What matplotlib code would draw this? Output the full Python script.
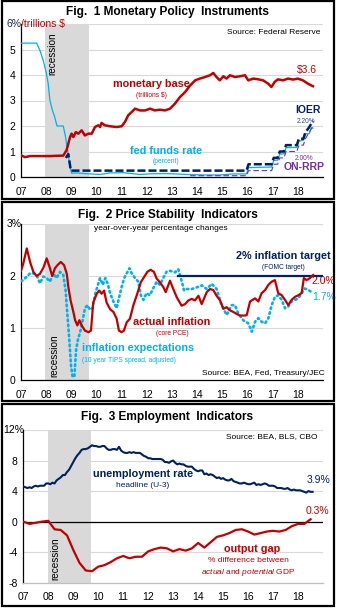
import matplotlib
matplotlib.use('Agg')
import matplotlib.pyplot as plt
from matplotlib.patches import Rectangle
import numpy as np

plt.rcParams['font.family'] = ['Liberation Sans', 'DejaVu Sans']
plt.rcParams['mathtext.fontset'] = 'custom'
plt.rcParams['mathtext.rm'] = 'Liberation Sans'
plt.rcParams['mathtext.it'] = 'Liberation Sans:italic'

RED = '#C00000'
NAVY = '#002060'
LBLUE = '#00B0F0'
PURPLE = '#7030A0'
GREY = '#D9D9D9'

W, H = 337, 608

# recession band (Dec 2007 - Jun 2009, as drawn)
rec_start, rec_end = 2007.97, 2009.72
year_ticks = list(range(2007, 2019))
year_labels = ['%02d' % (y % 100) for y in year_ticks]

# ---- Fig 1 data ----
mb_x = [2007.0, 2007.16, 2007.36, 2007.75, 2008.15, 2008.68, 2008.81, 2008.88, 2008.95, 2009.01,
        2009.08, 2009.18, 2009.28, 2009.41, 2009.54, 2009.68, 2009.81, 2009.94, 2010.07, 2010.14,
        2010.2, 2010.33, 2010.53, 2010.8, 2011.0, 2011.13, 2011.26, 2011.4, 2011.53, 2011.73,
        2011.93, 2012.13, 2012.32, 2012.52, 2012.72, 2012.92, 2013.12, 2013.32, 2013.52, 2013.72,
        2013.92, 2014.11, 2014.31, 2014.51, 2014.64, 2014.77, 2014.9, 2015.04, 2015.17, 2015.3,
        2015.5, 2015.7, 2015.9, 2016.03, 2016.23, 2016.43, 2016.62, 2016.82, 2016.95, 2017.08,
        2017.21, 2017.41, 2017.61, 2017.81, 2018.0, 2018.2, 2018.4, 2018.6]
mb_y = [0.85, 0.78, 0.82, 0.82, 0.82, 0.84, 1.05, 1.31, 1.57, 1.70,
        1.57, 1.76, 1.70, 1.83, 1.63, 1.70, 1.70, 1.96, 2.03, 1.96,
        2.12, 2.03, 1.99, 1.96, 1.99, 2.16, 2.42, 2.55, 2.68, 2.61,
        2.61, 2.68, 2.61, 2.64, 2.61, 2.68, 2.88, 3.14, 3.33, 3.59,
        3.79, 3.86, 3.92, 3.99, 4.08, 3.92, 3.79, 3.95, 3.86, 3.99,
        3.92, 3.95, 3.99, 3.79, 3.86, 3.83, 3.79, 3.66, 3.53, 3.73,
        3.83, 3.79, 3.86, 3.82, 3.86, 3.79, 3.66, 3.56]

ff_x = [2007.0, 2007.62, 2007.75, 2007.88, 2008.0, 2008.08, 2008.15, 2008.25, 2008.34, 2008.43,
        2008.68, 2008.77, 2008.85, 2008.95, 2009.01, 2009.21, 2009.6, 2010.14, 2010.53, 2011.06,
        2011.73, 2012.26, 2012.92, 2013.58, 2014.24, 2014.9, 2015.43, 2015.96, 2016.04, 2016.96,
        2017.04, 2017.2, 2017.28, 2017.45, 2017.53, 2017.96, 2018.04, 2018.22, 2018.3, 2018.45,
        2018.53, 2018.6]
ff_y = [5.25, 5.25, 4.97, 4.58, 4.10, 3.66, 3.00, 2.61, 2.35, 2.00,
        2.00, 1.57, 1.05, 0.39, 0.15, 0.16, 0.13, 0.10, 0.16, 0.17,
        0.10, 0.13, 0.13, 0.10, 0.08, 0.08, 0.12, 0.12, 0.37, 0.39,
        0.65, 0.66, 0.90, 0.91, 1.15, 1.16, 1.41, 1.44, 1.69, 1.70,
        1.91, 1.92]

ioer_x = [2008.78, 2008.88, 2008.98, 2015.96, 2016.04, 2016.96, 2017.04, 2017.2, 2017.28, 2017.45,
          2017.53, 2017.96, 2018.04, 2018.22, 2018.3, 2018.45, 2018.6]
ioer_y = [0.75, 0.90, 0.25, 0.25, 0.50, 0.50, 0.75, 0.75, 1.00, 1.00,
          1.25, 1.25, 1.50, 1.50, 1.75, 1.95, 2.20]

rrp_x = [2013.72, 2015.96, 2016.04, 2016.96, 2017.04, 2017.2, 2017.28, 2017.45, 2017.53, 2017.96,
         2018.04, 2018.22, 2018.3, 2018.45, 2018.6]
rrp_y = [0.05, 0.05, 0.25, 0.25, 0.50, 0.50, 0.75, 0.75, 1.00, 1.00,
         1.25, 1.25, 1.50, 1.75, 2.00]

# ---- Fig 2 data ----
pce_x = [2007.0, 2007.09, 2007.23, 2007.36, 2007.49, 2007.62, 2007.75, 2007.89, 2008.02, 2008.15,
         2008.24, 2008.35, 2008.45, 2008.58, 2008.71, 2008.82, 2008.88, 2008.97, 2009.08, 2009.15,
         2009.24, 2009.32, 2009.41, 2009.54, 2009.68, 2009.78, 2009.87, 2010.01, 2010.11, 2010.2,
         2010.3, 2010.4, 2010.54, 2010.67, 2010.8, 2010.89, 2011.0, 2011.09, 2011.2, 2011.33,
         2011.46, 2011.62, 2011.76, 2011.89, 2012.02, 2012.15, 2012.28, 2012.39, 2012.52, 2012.65,
         2012.75, 2012.85, 2012.92, 2013.05, 2013.19, 2013.38, 2013.52, 2013.65, 2013.78, 2013.91,
         2014.05, 2014.18, 2014.38, 2014.51, 2014.64, 2014.77, 2014.91, 2015.04, 2015.17, 2015.3,
         2015.43, 2015.57, 2015.7, 2015.9, 2015.97, 2016.1, 2016.3, 2016.43, 2016.56, 2016.7,
         2016.83, 2016.96, 2017.09, 2017.22, 2017.36, 2017.49, 2017.62, 2017.75, 2017.89, 2018.02,
         2018.15, 2018.24, 2018.35, 2018.48, 2018.61]
pce_y = [2.10, 2.24, 2.53, 2.27, 2.08, 2.00, 2.04, 2.16, 2.34, 2.15,
         2.00, 2.15, 2.21, 2.27, 2.21, 2.04, 1.79, 1.53, 1.31, 1.15,
         1.05, 1.15, 1.05, 0.95, 0.92, 0.95, 1.49, 1.66, 1.72, 1.66,
         1.72, 1.49, 1.36, 1.31, 1.18, 0.95, 0.92, 0.95, 1.11, 1.18,
         1.43, 1.66, 1.88, 1.98, 2.08, 2.12, 2.08, 1.95, 1.88, 1.79,
         1.69, 1.82, 1.91, 1.75, 1.59, 1.43, 1.46, 1.53, 1.56, 1.53,
         1.62, 1.46, 1.69, 1.75, 1.73, 1.62, 1.53, 1.37, 1.40, 1.34,
         1.31, 1.27, 1.24, 1.24, 1.25, 1.51, 1.57, 1.51, 1.67, 1.73,
         1.83, 1.89, 1.92, 1.67, 1.63, 1.54, 1.44, 1.54, 1.60, 1.63,
         1.67, 1.96, 1.92, 1.96, 2.02]

tips_x = [2007.0, 2007.09, 2007.23, 2007.36, 2007.49, 2007.62, 2007.75, 2007.89, 2008.02, 2008.15,
          2008.28, 2008.41, 2008.55, 2008.68, 2008.77, 2008.85, 2008.92, 2008.99, 2009.05, 2009.12,
          2009.19, 2009.26, 2009.37, 2009.45, 2009.54, 2009.64, 2009.74, 2009.84, 2009.94, 2010.03,
          2010.14, 2010.25, 2010.35, 2010.44, 2010.54, 2010.67, 2010.8, 2010.89, 2011.0, 2011.1,
          2011.2, 2011.31, 2011.4, 2011.53, 2011.66, 2011.76, 2011.86, 2011.99, 2012.12, 2012.25,
          2012.39, 2012.52, 2012.65, 2012.78, 2012.92, 2013.12, 2013.25, 2013.38, 2013.48, 2013.58,
          2013.78, 2013.98, 2014.18, 2014.38, 2014.58, 2014.77, 2014.97, 2015.17, 2015.37, 2015.5,
          2015.63, 2015.83, 2016.03, 2016.17, 2016.3, 2016.43, 2016.56, 2016.7, 2016.83, 2016.96,
          2017.09, 2017.22, 2017.36, 2017.49, 2017.62, 2017.75, 2017.89, 2018.02, 2018.15, 2018.28,
          2018.42, 2018.61]
tips_y = [1.90, 1.92, 1.99, 2.05, 2.05, 2.02, 1.86, 1.99, 1.96, 1.89,
          2.05, 1.96, 2.08, 2.02, 1.73, 1.22, 0.77, 0.26, 0.06, 0.06,
          0.58, 0.77, 0.96, 1.15, 1.38, 1.44, 1.35, 1.38, 1.63, 1.79,
          1.96, 1.83, 1.96, 1.86, 1.67, 1.51, 1.38, 1.57, 1.79, 1.96,
          2.05, 2.15, 2.05, 1.96, 1.89, 1.63, 1.54, 1.67, 1.63, 1.76,
          1.89, 1.83, 1.96, 2.08, 2.10, 2.07, 2.13, 1.91, 1.72, 1.75,
          1.75, 1.78, 1.82, 1.75, 1.85, 1.75, 1.44, 1.25, 1.44, 1.44,
          1.28, 1.15, 1.09, 0.93, 1.12, 1.19, 1.12, 1.09, 1.19, 1.44,
          1.60, 1.63, 1.54, 1.38, 1.41, 1.51, 1.54, 1.57, 1.67, 1.76,
          1.73, 1.67]

target_x = [2013.25, 2019.0]
target_y = [2.0, 2.0]

# ---- Fig 3 data ----
unemp = [4.6, 4.5, 4.4, 4.5, 4.4, 4.6, 4.7, 4.6, 4.7, 4.7, 4.7, 5.0,
         5.0, 4.9, 5.1, 5.0, 5.4, 5.6, 5.8, 6.1, 6.1, 6.5, 6.8, 7.3,
         7.8, 8.3, 8.7, 9.0, 9.4, 9.5, 9.5, 9.6, 9.8, 10.0, 9.9, 9.9,
         9.8, 9.8, 9.9, 9.9, 9.6, 9.4, 9.4, 9.5, 9.5, 9.4, 9.8, 9.3,
         9.1, 9.0, 9.0, 9.1, 9.0, 9.1, 9.0, 9.0, 9.0, 8.8, 8.6, 8.5,
         8.3, 8.3, 8.2, 8.2, 8.2, 8.2, 8.2, 8.1, 7.8, 7.8, 7.7, 7.9,
         8.0, 7.7, 7.5, 7.6, 7.5, 7.5, 7.3, 7.2, 7.2, 7.2, 6.9, 6.7,
         6.6, 6.7, 6.7, 6.2, 6.3, 6.1, 6.2, 6.1, 5.9, 5.7, 5.8, 5.6,
         5.7, 5.5, 5.4, 5.4, 5.6, 5.3, 5.2, 5.1, 5.0, 5.0, 5.1, 5.0,
         4.9, 4.9, 5.0, 5.1, 4.8, 4.9, 4.8, 4.9, 5.0, 4.9, 4.7, 4.7,
         4.7, 4.6, 4.4, 4.4, 4.4, 4.3, 4.3, 4.4, 4.2, 4.1, 4.2, 4.1,
         4.1, 4.1, 4.0, 3.9, 3.8, 4.0, 3.9, 3.9]
unemp_x = 2007 + np.arange(len(unemp)) / 12.0

gap = [0.0, -0.3, -0.15, 0.0, 0.1, -1.0, -1.1, -1.8, -3.7, -5.4, -6.4, -6.5,
       -5.9, -5.7, -5.3, -4.8, -4.5, -4.8, -4.6, -4.6, -3.9, -3.6, -3.4, -3.5,
       -3.9, -3.6, -3.8, -3.5, -2.8, -3.4, -2.7, -2.0, -1.8, -1.5, -1.1, -1.0,
       -1.3, -1.7, -1.5, -1.3, -1.2, -1.3, -1.1, -0.6, -0.3, -0.3, 0.3]
gap_x = 2007 + np.arange(len(gap)) / 4.0


def fx(px):
    return px / W


def fy(py):
    return 1 - py / H


fig = plt.figure(figsize=(W / 100, H / 100), dpi=100)

# panel borders
for top, bot in [(1, 199), (202, 400.5), (403.5, 606)]:
    fig.add_artist(Rectangle((fx(2), fy(bot)), fx(334) - fx(2), fy(top) - fy(bot),
                             transform=fig.transFigure, fill=False, ec='black', lw=1.6))

titles = [('Fig.  1 Monetary Policy  Instruments', 12),
          ('Fig.  2 Price Stability  Indicators', 215),
          ('Fig.  3 Employment  Indicators', 417)]
for t, py in titles:
    fig.text(0.497, fy(py), t, ha='center', va='center', fontsize=8.6, fontweight='bold')


def make_axes(left, right, top, bot, ylim, yticks, ylabels):
    ax = fig.add_axes([fx(left), fy(bot), fx(right) - fx(left), fy(top) - fy(bot)])
    ax.set_xlim(2007, 2019)
    ax.set_ylim(*ylim)
    ax.axvspan(rec_start, rec_end, color=GREY, lw=0, zorder=0)
    for v in yticks:
        ax.axhline(v, color=GREY, lw=0.8, zorder=0.5)
    ax.axhline(ylim[1], color=GREY, lw=0.8, zorder=0.5)
    ax.set_yticks(yticks)
    ax.set_yticklabels(ylabels)
    ax.set_xticks(year_ticks)
    ax.set_xticklabels(year_labels)
    ax.tick_params(axis='both', length=0, labelsize=7.5, colors='black')
    ax.tick_params(axis='x', pad=7)
    ax.tick_params(axis='y', pad=4)
    for s in ['top', 'right']:
        ax.spines[s].set_visible(False)
    ax.spines['left'].set_linewidth(0.9)
    ax.spines['bottom'].set_linewidth(0.9)
    ax.set_facecolor('none')
    return ax


# ---------- Fig 1 ----------
ax1 = make_axes(21, 323, 24, 177, (0, 6), [0, 1, 2, 3, 4, 5], ['0', '1', '2', '3', '4', '5'])
ax1.plot(ff_x, ff_y, color=LBLUE, lw=0.9, zorder=3)
ax1.plot(rrp_x, rrp_y, color=PURPLE, lw=0.8, dashes=(5, 2.5), zorder=3)
ax1.plot(ioer_x, ioer_y, color=NAVY, lw=1.8, dashes=(3.2, 1.2), zorder=4)
ax1.plot(mb_x, mb_y, color=RED, lw=1.8, zorder=5)
ax1.text(2007.02, 6, '6%', ha='right', va='center', fontsize=7.5, color='#1F2A44')
ax1.text(2007.0, 6, '/trillions $', ha='left', va='center', fontsize=7.5, color=RED)
ax1.text(2008.23, 5.68, 'recession', rotation=90, ha='center', va='top', fontsize=7.2)
ax1.text(2018.88, 5.65, 'Source: Federal Reserve', ha='right', va='center', fontsize=6)
ax1.text(2012.2, 3.65, 'monetary base', ha='center', va='center', fontsize=7.8,
         fontweight='bold', color=RED)
ax1.text(2012.2, 3.18, '(trillions $)', ha='center', va='center', fontsize=4.8, color=RED)
ax1.text(2018.36, 4.2, '$3.6', ha='center', va='center', fontsize=7.5, color=RED)
ax1.text(2018.4, 2.63, 'IOER', ha='center', va='center', fontsize=7.5, fontweight='bold', color=NAVY)
ax1.text(2018.32, 2.16, '2.20%', ha='center', va='center', fontsize=4.8, color='#2F4F7F')
ax1.text(2018.24, 0.71, '2.00%', ha='center', va='center', fontsize=4.8, color=PURPLE)
ax1.text(2018.24, 0.39, 'ON-RRP', ha='center', va='center', fontsize=7.5, fontweight='bold',
         color=PURPLE)
ax1.text(2012.76, 1.02, 'fed funds rate', ha='center', va='center', fontsize=7.8,
         fontweight='bold', color=LBLUE)
ax1.text(2012.76, 0.59, '(percent)', ha='center', va='center', fontsize=4.8, color=LBLUE)

# ---------- Fig 2 ----------
ax2 = make_axes(21, 323, 224, 380, (0, 3), [0, 1, 2], ['0', '1', '2'])
ax2.plot(tips_x, tips_y, color=LBLUE, lw=1.9, dashes=(0.6, 1.3), dash_capstyle='round', zorder=3)
ax2.plot(target_x, target_y, color=NAVY, lw=1.6, zorder=4)
ax2.plot(pce_x, pce_y, color=RED, lw=1.6, zorder=5)
ax2.text(2007.02, 3, '3%', ha='right', va='center', fontsize=7.5)
ax2.text(2009.9, 2.92, 'year-over-year percentage changes', ha='left', va='center', fontsize=6)
ax2.text(2017.41, 2.38, '2% inflation target', ha='center', va='center', fontsize=7.8,
         fontweight='bold', color=NAVY)
ax2.text(2017.41, 2.16, '(FOMC target)', ha='center', va='center', fontsize=4.8, color=NAVY)
ax2.text(2018.56, 1.90, '2.0%', ha='left', va='center', fontsize=7.5, color=RED)
ax2.text(2018.56, 1.60, '1.7%', ha='left', va='center', fontsize=7.5, color=LBLUE)
ax2.text(2013.0, 1.12, 'actual inflation', ha='center', va='center', fontsize=7.8,
         fontweight='bold', color=RED)
ax2.text(2013.0, 0.90, '(core PCE)', ha='center', va='center', fontsize=4.8, color=RED)
ax2.text(2009.42, 0.62, 'inflation expectations', ha='left', va='center', fontsize=7.8,
         fontweight='bold', color=LBLUE)
ax2.text(2009.42, 0.38, '(10 year TIPS spread, adjusted)', ha='left', va='center', fontsize=4.8,
         color=LBLUE)
ax2.text(2008.31, 0.05, 'recession', rotation=90, ha='center', va='bottom', fontsize=7.2)
ax2.text(2019.08, 0.13, 'Source: BEA, Fed, Treasury/JEC', ha='right', va='center', fontsize=6)

# ---------- Fig 3 ----------
ax3 = make_axes(23.3, 323, 430, 582.7, (-8, 12), [-8, -4, 0, 4, 8], ['-8', '-4', '0', '4', '8'])
ax3.spines['bottom'].set_color('#BFBFBF')
ax3.axhline(0, color='black', lw=0.9, zorder=2)
ax3.plot(unemp_x, unemp, color=NAVY, lw=1.5, zorder=4)
ax3.plot(gap_x, gap, color=RED, lw=1.6, zorder=5)
ax3.text(2007.02, 12, '12%', ha='right', va='center', fontsize=7.5)
ax3.text(2018.79, 11.1, 'Source: BEA, BLS, CBO', ha='right', va='center', fontsize=6)
ax3.text(2011.79, 6.25, 'unemployment rate', ha='center', va='center', fontsize=7.8,
         fontweight='bold', color=NAVY)
ax3.text(2011.79, 4.68, 'headline (U-3)', ha='center', va='center', fontsize=6, color=NAVY)
ax3.text(2018.83, 5.47, '3.9%', ha='center', va='center', fontsize=7.5, color=NAVY)
ax3.text(2018.79, 1.4, '0.3%', ha='center', va='center', fontsize=7.5, color=RED)
ax3.text(2016.15, -3.58, 'output gap', ha='center', va='center', fontsize=7.8,
         fontweight='bold', color=RED)
ax3.text(2016.03, -5.15, '% difference between', ha='center', va='center', fontsize=6, color=RED)
ax3.text(2016.03, -6.6, r'$\it{actual}$ and $\it{potential}$ GDP', ha='center', va='center',
         fontsize=6, color=RED)
ax3.text(2008.27, -7.6, 'recession', rotation=90, ha='center', va='bottom', fontsize=7.2)

fig.savefig('out.png', dpi=100)
